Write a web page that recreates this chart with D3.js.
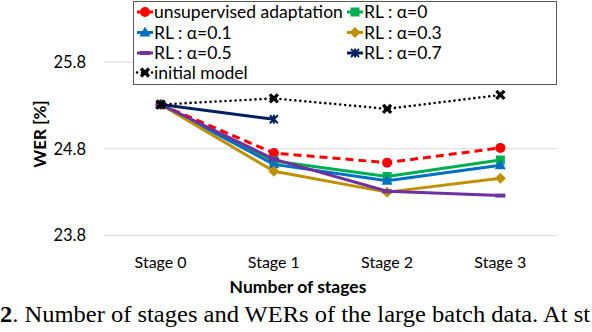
<!DOCTYPE html>
<meta charset="utf-8">
<script src="https://d3js.org/d3.v7.min.js"></script>
<style>
  body { margin: 0; background: #fff; }
  svg { font-family: Lato, "Open Sans", sans-serif; }
</style>
<div id="my_dataviz"></div>
<script>
// data
var stages = ["Stage 0", "Stage 1", "Stage 2", "Stage 3"];
var yTicks = [23.8, 24.8, 25.8];

var unsupervised = [25.31, 24.75, 24.64, 24.81];
var rl00 = [25.31, 24.66, 24.48, 24.67];
var rl01 = [25.31, 24.62, 24.43, 24.61];
var rl03 = [25.31, 24.54, 24.30, 24.46];
var rl05 = [25.31, 24.68, 24.31, 24.26];
var rl07 = [25.31, 25.14];
var initialModel = [25.31, 25.38, 25.26, 25.42];

var series = [
  {name: "unsupervised adaptation", values: unsupervised, color: "#ff0000", marker: "circle", dash: "8,5"},
  {name: "RL : α=0", values: rl00, color: "#00b050", marker: "square"},
  {name: "RL : α=0.1", values: rl01, color: "#0070c0", marker: "triangle"},
  {name: "RL : α=0.3", values: rl03, color: "#bf9000", marker: "diamond"},
  {name: "RL : α=0.5", values: rl05, color: "#7030a0", marker: "dash"},
  {name: "RL : α=0.7", values: rl07, color: "#002060", marker: "star"},
  {name: "initial model", values: initialModel, color: "#000000", marker: "cross", dash: "0,5", width: 2.6}
];

var W = 592, H = 332;
var svg = d3.select("#my_dataviz").append("svg")
  .attr("width", W).attr("height", H);

var x = d3.scaleBand().domain(stages).range([104, 557]);
var y = d3.scaleLinear().domain([23.8, 25.8]).range([235.5, 62]);

// gridlines
svg.append("g").selectAll("line").data(yTicks).enter().append("line")
  .attr("x1", 104).attr("x2", 557)
  .attr("y1", function(d) { return y(d); }).attr("y2", function(d) { return y(d); })
  .attr("stroke", "#d9d9d9").attr("stroke-width", 1);

// y tick labels
svg.append("g").selectAll("text").data(yTicks).enter().append("text")
  .attr("x", 86).attr("y", function(d) { return y(d); })
  .attr("dy", "0.35em").attr("text-anchor", "end")
  .attr("font-size", 16.5).attr("fill", "#000")
  .text(function(d) { return d.toFixed(1); });

// x tick labels
svg.append("g").selectAll("text").data(stages).enter().append("text")
  .attr("x", function(d) { return x(d) + x.bandwidth() / 2; })
  .attr("y", 262).attr("dy", "0.35em").attr("text-anchor", "middle")
  .attr("font-size", 16).text(function(d) { return d; });

// axis titles
svg.append("text")
  .attr("transform", "translate(46,134) rotate(-90)")
  .attr("text-anchor", "middle").attr("font-size", 17).attr("font-weight", "bold")
  .text("WER [%]");
svg.append("text")
  .attr("x", 298).attr("y", 287).attr("dy", "0.35em").attr("text-anchor", "middle")
  .attr("font-size", 17.5).attr("font-weight", "bold")
  .text("Number of stages");

// marker drawing
function drawMarker(g, type, color, cx, cy) {
  if (type === "circle") {
    g.append("circle").attr("cx", cx).attr("cy", cy).attr("r", 5).attr("fill", color);
  } else if (type === "square") {
    g.append("rect").attr("x", cx - 4.5).attr("y", cy - 4.5).attr("width", 9).attr("height", 9).attr("fill", color);
  } else if (type === "triangle") {
    g.append("path").attr("d", "M" + cx + "," + (cy - 6) + "L" + (cx + 5.5) + "," + (cy + 4) + "L" + (cx - 5.5) + "," + (cy + 4) + "Z").attr("fill", color);
  } else if (type === "diamond") {
    g.append("path").attr("d", "M" + cx + "," + (cy - 5.5) + "L" + (cx + 5.5) + "," + cy + "L" + cx + "," + (cy + 5.5) + "L" + (cx - 5.5) + "," + cy + "Z").attr("fill", color);
  } else if (type === "dash") {
    g.append("rect").attr("x", cx - 5).attr("y", cy - 2).attr("width", 10).attr("height", 4).attr("fill", color);
  } else if (type === "star") {
    g.append("path").attr("d", "M" + (cx - 4) + "," + (cy - 4) + "L" + (cx + 4) + "," + (cy + 4) + "M" + (cx + 4) + "," + (cy - 4) + "L" + (cx - 4) + "," + (cy + 4) + "M" + cx + "," + (cy - 4.5) + "L" + cx + "," + (cy + 4.5))
      .attr("stroke", color).attr("stroke-width", 2);
  } else if (type === "cross") {
    g.append("path").attr("d", "M" + (cx - 4) + "," + (cy - 4) + "L" + (cx + 4) + "," + (cy + 4) + "M" + (cx + 4) + "," + (cy - 4) + "L" + (cx - 4) + "," + (cy + 4))
      .attr("stroke", color).attr("stroke-width", 3.2);
  }
}

// lines
var line = d3.line()
  .x(function(d, i) { return x(stages[i]) + x.bandwidth() / 2; })
  .y(function(d) { return y(d); });

series.forEach(function(s) {
  var g = svg.append("g");
  g.append("path").datum(s.values)
    .attr("d", line).attr("fill", "none")
    .attr("stroke", s.color).attr("stroke-width", s.width || 3)
    .attr("stroke-linecap", s.marker === "cross" ? "round" : "butt")
    .attr("stroke-linejoin", "round")
    .attr("stroke-dasharray", s.dash || null);
  s.values.forEach(function(v, i) {
    drawMarker(g, s.marker, s.color, x(stages[i]) + x.bandwidth() / 2, y(v));
  });
});

// legend
var legend = svg.append("g");
legend.append("rect").attr("x", 133.5).attr("y", 1.5).attr("width", 423).attr("height", 83)
  .attr("fill", "#fff").attr("stroke", "#595959").attr("stroke-width", 1);
var rowY = [12, 32.5, 53, 72.5];
var colX = [137, 347];
var order = [[0, 0, 0], [1, 1, 0], [2, 0, 1], [3, 1, 1], [4, 0, 2], [5, 1, 2], [6, 0, 3]];
order.forEach(function(o) {
  var s = series[o[0]];
  var lx = colX[o[1]], ly = rowY[o[2]];
  var g = legend.append("g");
  g.append("line").attr("x1", lx).attr("x2", lx + 16).attr("y1", ly).attr("y2", ly)
    .attr("stroke", s.color).attr("stroke-width", s.width || 3)
    .attr("stroke-linecap", s.marker === "cross" ? "round" : "butt")
    .attr("stroke-dasharray", s.marker === "cross" ? "0,5" : null);
  drawMarker(g, s.marker, s.color, lx + 8, ly);
  g.append("text").attr("x", lx + 17).attr("y", ly).attr("dy", "0.35em")
    .attr("font-size", 17.5).text(s.name);
});

// figure caption (only the part visible in the crop)
var cap = svg.append("text").attr("x", 0).attr("y", 322)
  .attr("font-family", "'Liberation Serif', 'Times New Roman', serif").attr("font-size", 23)
  .attr("textLength", 590).attr("lengthAdjust", "spacingAndGlyphs");
cap.append("tspan").attr("font-weight", "bold").text("2");
cap.append("tspan").text(". Number of stages and WERs of the large batch data. At st");
</script>
